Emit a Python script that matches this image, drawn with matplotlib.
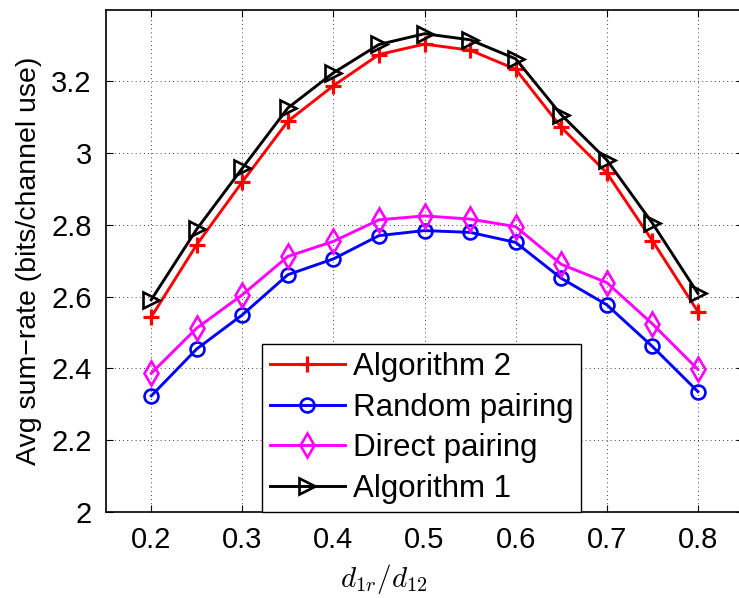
import matplotlib.pyplot as plt
import numpy as np

plt.rcParams['font.family'] = ['Liberation Sans', 'DejaVu Sans']
plt.rcParams['mathtext.fontset'] = 'cm'

x = [0.2, 0.25, 0.3, 0.35, 0.4, 0.45, 0.5, 0.55, 0.6, 0.65, 0.7, 0.75, 0.8]
alg2 = [2.543, 2.745, 2.920, 3.089, 3.188, 3.275, 3.304, 3.287, 3.234, 3.072, 2.945, 2.756, 2.558]
random_pair = [2.323, 2.454, 2.549, 2.661, 2.705, 2.770, 2.784, 2.779, 2.751, 2.651, 2.577, 2.461, 2.335]
direct_pair = [2.386, 2.512, 2.605, 2.712, 2.754, 2.814, 2.825, 2.816, 2.795, 2.690, 2.639, 2.524, 2.397]
alg1 = [2.591, 2.788, 2.958, 3.126, 3.224, 3.303, 3.333, 3.316, 3.263, 3.107, 2.981, 2.805, 2.609]

xticks = [0.2, 0.3, 0.4, 0.5, 0.6, 0.7, 0.8]
yticks = [2, 2.2, 2.4, 2.6, 2.8, 3, 3.2]
ytick_labels = ['2', '2.2', '2.4', '2.6', '2.8', '3', '3.2']

fig = plt.figure(figsize=(7.39, 5.98), dpi=100)
ax = fig.add_axes([0.143, 0.1443, 0.863, 0.8395])

lw = 2.1
mew = 1.9
ax.plot(x, alg2, color='red', marker='+', lw=lw, ms=11, mew=2.3, label='Algorithm 2')
ax.plot(x, random_pair, color='blue', marker='o', lw=lw, ms=10, mew=mew, mfc='none', label='Random pairing')
ax.plot(x, direct_pair, color='magenta', marker='d', lw=lw, ms=12, mew=mew, mfc='none', label='Direct pairing')
ax.plot(x, alg1, color='black', marker='>', lw=lw, ms=11, mew=mew, mfc='none', label='Algorithm 1')

ax.set_xlim(0.15, 0.85)
ax.set_ylim(2, 3.4)
ax.set_xticks(xticks)
ax.set_yticks(yticks)
ax.set_yticklabels(ytick_labels)
ax.grid(True, color='black', linestyle=(0, (1, 4)), linewidth=0.6)
ax.tick_params(direction='in', top=True, right=True, length=5, labelsize=21, pad=10)
for s in ax.spines.values():
    s.set_linewidth(1.2)

ax.set_ylabel('Avg sum\u2212rate (bits/channel use)', fontsize=20.5)
ax.yaxis.set_label_coords(-0.1, 0.5)
ax.set_xlabel(r'$d_{1r}/d_{12}$', fontsize=21)
ax.xaxis.set_label_coords(0.436, -0.1)

leg = ax.legend(loc='lower left', bbox_to_anchor=(0.245, 0.0), fontsize=22.5, handlelength=2.4,
                handletextpad=0.25, labelspacing=0.34, borderpad=0.25, borderaxespad=0,
                fancybox=False, framealpha=1)
leg.get_frame().set_edgecolor('black')
leg.get_frame().set_linewidth(1.0)

fig.savefig('out.png', dpi=100)
